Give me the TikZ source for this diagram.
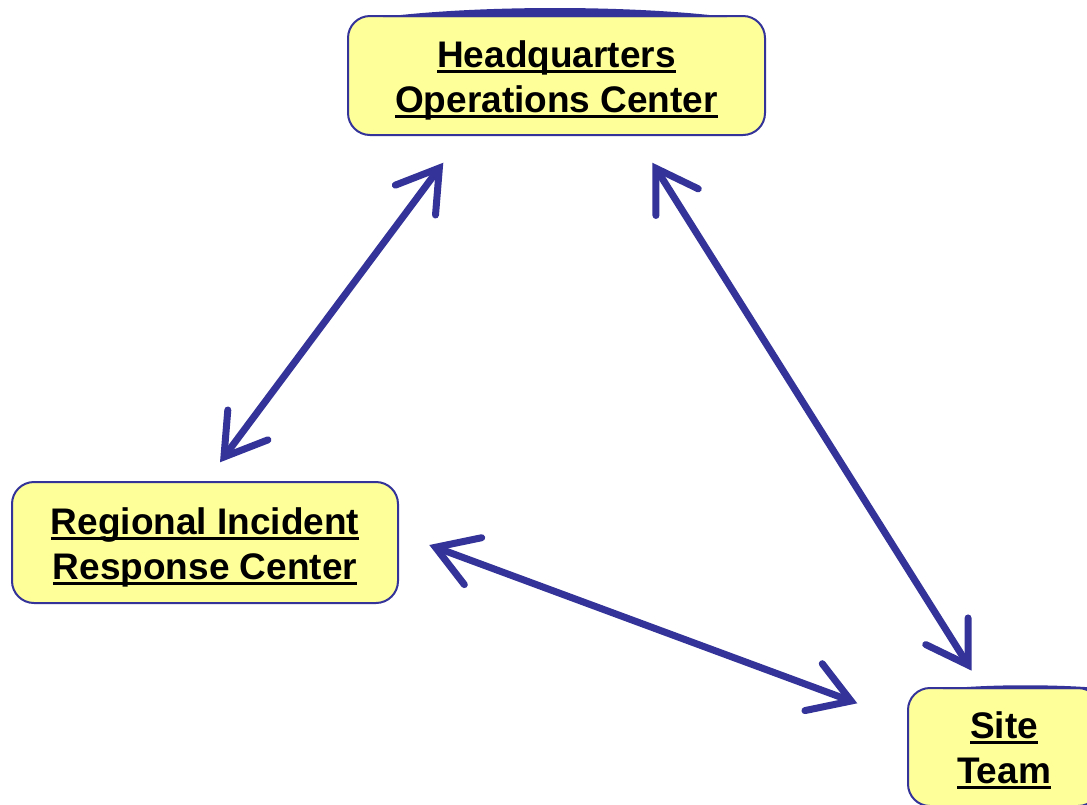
\documentclass[tikz,border=0pt]{standalone}
\usepackage{fontspec}
\setmainfont{Liberation Sans}
\usetikzlibrary{arrows.meta}
\definecolor{boxfill}{HTML}{FFFF99}
\definecolor{navy}{HTML}{333399}
% underline at a fixed depth below the baseline
\newcommand\ulx[1]{\setbox0\hbox{#1}\rlap{\rule[-5.6pt]{\wd0}{3pt}}\box0}
\begin{document}
\begin{tikzpicture}[x=1pt,y=-1pt,
  center/.style={draw=navy,line width=2pt,fill=boxfill,rounded corners=22pt,
    align=center,inner sep=0pt,text height=75pt,text depth=2pt,
    font=\bfseries\fontsize{37}{45}\selectfont},
  link/.style={draw=navy,line width=7pt,line cap=round,
    {Straight Barb[length=40pt,width=50pt,line cap=round,line join=miter]}-{Straight Barb[length=40pt,width=50pt,line cap=round,line join=miter]}}]
\useasboundingbox (0,0) rectangle (1087,804);
\clip (0,0) rectangle (1087,804);

% the three centres
\node[center,minimum width=417pt,minimum height=119pt] (hq) at (556.5,75.5)
  {\ulx{Headquarters}\\\ulx{Operations Center}};
\node[center,minimum width=386pt,minimum height=121pt] (rirc) at (205,542.5)
  {\ulx{Regional Incident}\\\ulx{Response Center}};
\node[center,minimum width=192pt,minimum height=118pt] (site) at (1004,747)
  {\ulx{Site}\\\ulx{Team}};

% raised rims on the upper edges
\fill[navy] (383,17) .. controls (480,5) and (630,5) .. (727,17) -- cycle;
\fill[navy] (943,689) .. controls (990,684) and (1060,684) .. (1110,689) -- cycle;

% two-way links
\draw[link] ([shift={(15,-18.7)}]rirc.north) -- ([shift={(-113.2,26.7)}]hq.south);
\draw[link] ([shift={(95.8,26.7)}]hq.south) -- ([shift={(-32.3,-16.3)}]site.north);
\draw[link] ([shift={(30.3,2.5)}]rirc.east) -- ([shift={(-49.7,-43.7)}]site.west);
\end{tikzpicture}
\end{document}
